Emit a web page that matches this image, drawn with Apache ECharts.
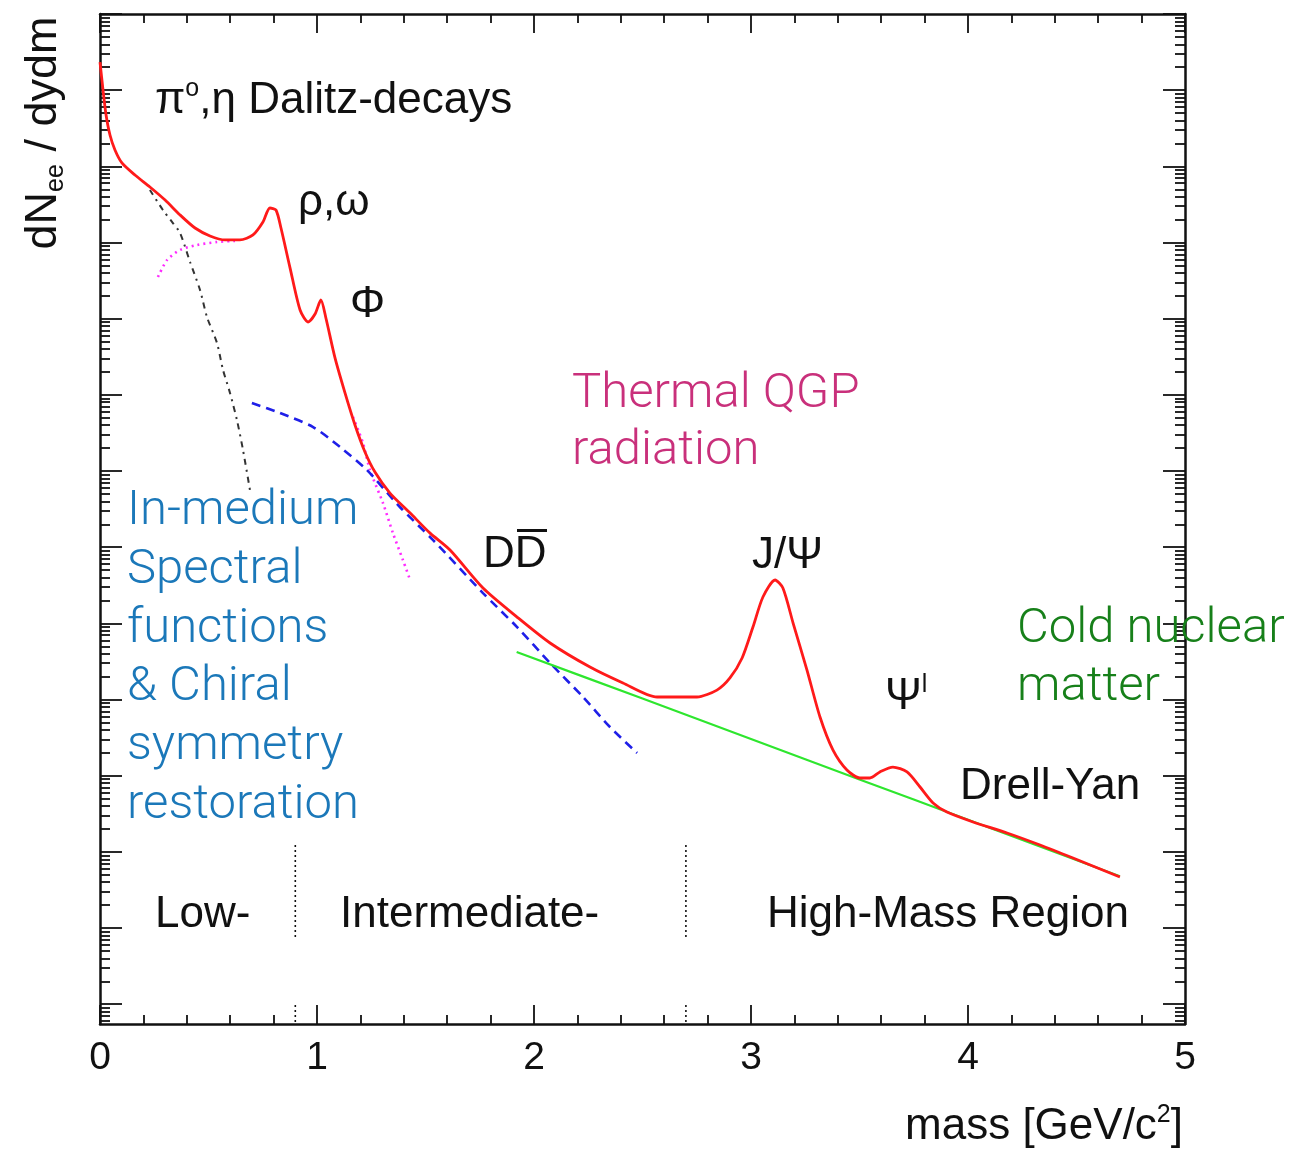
<!DOCTYPE html>
<html>
<head>
<meta charset="utf-8">
<script src="https://cdn.jsdelivr.net/npm/echarts@6/dist/echarts.min.js"></script>
<style>
  html, body { margin: 0; padding: 0; background: #fff; }
  #chart { width: 1296px; height: 1150px; }
</style>
</head>
<body>
<div id="chart"></div>
<script>
// Dilepton invariant-mass spectrum: dN_ee/dydm versus mass (GeV/c^2), log scale in y.

// Total yield (red)
const totalMass = [0.000, 0.014, 0.028, 0.046, 0.069, 0.101, 0.161, 0.230, 0.300, 0.369, 0.438, 0.507, 0.576, 0.645, 0.705, 0.751, 0.783, 0.811, 0.834, 0.876, 0.922, 0.959, 0.991, 1.018, 1.041, 1.083, 1.129, 1.175, 1.221, 1.267, 1.336, 1.429, 1.521, 1.613, 1.765, 1.922, 2.074, 2.258, 2.410, 2.567, 2.751, 2.843, 2.903, 2.959, 3.009, 3.055, 3.111, 3.147, 3.194, 3.258, 3.318, 3.378, 3.442, 3.502, 3.548, 3.594, 3.654, 3.719, 3.779, 3.839, 3.903, 4.023, 4.180, 4.332, 4.484, 4.700];
const totalYield = [2.34, 1.00, 0.472, 0.258, 0.164, 0.111, 0.0769, 0.0536, 0.0361, 0.0230, 0.0155, 0.0122, 0.0108, 0.0108, 0.01256, 0.01858, 0.0284, 0.0267, 0.0155, 0.00462, 0.00130, 0.000904, 0.00115, 0.00176, 0.00102, 3.05e-4, 1.06e-4, 4.02e-5, 1.78e-5, 9.7e-6, 5.14e-6, 2.81e-6, 1.53e-6, 9.18e-7, 2.91e-7, 1.21e-7, 5.52e-8, 2.67e-8, 1.65e-8, 1.08e-8, 1.08e-8, 1.33e-8, 1.92e-8, 3.51e-8, 8.95e-8, 2.22e-7, 3.71e-7, 2.91e-7, 1.01e-7, 2.44e-8, 5.90e-9, 2.17e-9, 1.19e-9, 9.33e-10, 9.33e-10, 1.12e-9, 1.30e-9, 1.12e-9, 7.11e-10, 4.39e-10, 3.33e-10, 2.47e-10, 1.77e-10, 1.23e-10, 8.30e-11, 4.68e-11];

// Drell-Yan (green)
const drellYanMass = [1.92, 2.5, 3.0, 3.5, 4.0, 4.7];
const drellYanYield = [4.21e-8, 1.03e-8, 3.03e-9, 8.94e-10, 2.64e-10, 4.78e-11];

// Open charm D Dbar (blue dashed)
const charmMass = [0.700, 0.829, 0.982, 1.106, 1.230, 1.382, 1.535, 1.765, 1.922, 2.074, 2.226, 2.350, 2.475];
const charmYield = [7.82e-5, 5.78e-5, 3.78e-5, 2.07e-5, 1.03e-5, 3.37e-6, 1.24e-6, 2.50e-7, 8.95e-8, 3.02e-8, 1.08e-8, 4.36e-9, 1.99e-9];

// Dalitz decays (black dash-dot)
const dalitzMass = [0.230, 0.290, 0.336, 0.369, 0.415, 0.461, 0.493, 0.539, 0.567, 0.599, 0.631, 0.659, 0.691];
const dalitzYield = [0.0489, 0.0267, 0.0180, 0.0133, 0.00555, 0.00238, 0.00105, 4.80e-4, 2.12e-4, 1.06e-4, 4.68e-5, 1.89e-5, 5.64e-6];

// In-medium rho (magenta dotted), the parts not covered by the total
const rhoLowMass = [0.267, 0.309, 0.369, 0.447, 0.539, 0.622];
const rhoLowYield = [0.00352, 0.00589, 0.00798, 0.00927, 0.01016, 0.0105];
const rhoHighMass = [1.166, 1.212, 1.244, 1.304, 1.350, 1.396, 1.429];
const rhoHighYield = [5.12e-5, 2.33e-5, 1.03e-5, 3.80e-6, 1.53e-6, 6.79e-7, 3.71e-7];

// Mass-region boundaries and the yield span of their dotted markers
const regionEdges = [0.9, 2.7];
const edgeSpanUpper = [1.23e-10, 6.97e-12];
const edgeSpanLower = [9.77e-13, 5.8e-13];

// Axis ranges and ticks
const massTicks = [0, 1, 2, 3, 4, 5];
const yMin = 5.5e-13;
const yMax = 10;
const decadeTicks = [];
const subDecadeTicks = [];
for (let n = -13; n <= 1; n++) {
  const d = Math.pow(10, n);
  if (d >= yMin && d <= yMax) decadeTicks.push(d);
  for (let k = 2; k <= 9; k++) {
    const v = k * d;
    if (v > yMin && v < yMax) subDecadeTicks.push(v);
  }
}

const zip = (xs, ys) => xs.map((x, i) => [x, ys[i]]);

const INK = '#111';
const SANS = '"Liberation Sans", Arial, Helvetica, sans-serif';
const LIGHT = 'Roboto, "Open Sans", "Liberation Sans", sans-serif';

function yAxis(position, ticks, len, showLine) {
  return {
    type: 'log', logBase: 10, min: yMin, max: yMax, position: position,
    axisLine: { show: showLine, onZero: false, lineStyle: { color: INK, width: 2.5 } },
    axisTick: { show: true, inside: true, length: len, customValues: ticks, lineStyle: { color: INK, width: 1.8 } },
    axisLabel: { show: false },
    splitLine: { show: false },
    minorTick: { show: false }
  };
}

function xAxis(position, labels) {
  return {
    type: 'value', min: 0, max: 5, interval: 1, position: position,
    axisLine: { onZero: false, lineStyle: { color: INK, width: 2.5 } },
    axisTick: { inside: true, length: 19, lineStyle: { color: INK, width: 1.8 } },
    minorTick: { show: true, splitNumber: 5, length: 9, lineStyle: { color: INK, width: 1.8 } },
    axisLabel: labels ? {
      show: true, fontSize: 39, color: INK, margin: 15, fontFamily: SANS,
      customValues: massTicks, formatter: v => String(v)
    } : { show: false },
    splitLine: { show: false }
  };
}

function curve(name, xs, ys, color, width, type, z) {
  return {
    name: name, type: 'line', data: zip(xs, ys), showSymbol: false, smooth: 0.25,
    lineStyle: { color: color, width: width, type: type }, z: z, silent: true
  };
}

const series = [
  curve('Dalitz', dalitzMass, dalitzYield, '#333', 2, [6, 5, 2, 5], 2),
  curve('rho low', rhoLowMass, rhoLowYield, '#ff2bff', 2.6, [2, 4], 2),
  curve('rho high', rhoHighMass, rhoHighYield, '#ff2bff', 2.6, [2, 4], 2),
  curve('DDbar', charmMass, charmYield, '#1f1fe8', 2.6, [9, 6], 3),
  curve('Drell-Yan', drellYanMass, drellYanYield, '#2ee62e', 2.2, 'solid', 4),
  curve('Total', totalMass, totalYield, '#ff1a1a', 2.8, 'solid', 5)
];
regionEdges.forEach(m => {
  [edgeSpanUpper, edgeSpanLower].forEach(span => {
    series.push({
      type: 'line', data: [[m, span[0]], [m, span[1]]], showSymbol: false, silent: true,
      lineStyle: { color: INK, width: 1.6, type: [2, 3] }, z: 1
    });
  });
});

function label(x, y, text) {
  return {
    type: 'text', x: x, y: y, z: 50,
    style: { text: text, font: '44px ' + SANS, fill: INK, align: 'left', verticalAlign: 'middle' }
  };
}
function colored(x, y, text, color) {
  return {
    type: 'text', x: x, y: y, z: 50,
    style: { text: text, fontSize: 49, fontWeight: 300, fontFamily: LIGHT, fill: color, align: 'left', verticalAlign: 'middle' }
  };
}

const sup = { fontSize: 25, fontFamily: SANS, fill: INK, verticalAlign: 'top', lineHeight: 48 };
const base = { fontSize: 44, fontFamily: SANS, fill: INK, lineHeight: 48 };

const graphic = [
  // axis titles
  {
    type: 'text', x: 44, y: 133, rotation: Math.PI / 2, z: 50,
    style: {
      text: '{a|dN}{s|ee}{a| / dydm}', align: 'center', verticalAlign: 'middle',
      rich: {
        a: { fontSize: 45, fontFamily: SANS, fill: INK, lineHeight: 50 },
        s: { fontSize: 25, fontFamily: SANS, fill: INK, lineHeight: 50, verticalAlign: 'bottom' }
      }
    }
  },
  {
    type: 'text', x: 1183, y: 1127, z: 50,
    style: {
      text: '{a|mass [GeV/c}{p|2}{a|]}', align: 'right', verticalAlign: 'middle',
      rich: { a: { fontSize: 44, fontFamily: SANS, fill: INK, lineHeight: 48 }, p: { fontSize: 25, fontFamily: SANS, fill: INK, lineHeight: 48, verticalAlign: 'top' } }
    }
  },
  // black annotations
  {
    type: 'text', x: 155, y: 101, z: 50,
    style: { text: '{a|π}{p|o}{a|,η Dalitz-decays}', align: 'left', verticalAlign: 'middle', rich: { a: base, p: sup } }
  },
  label(298, 203, 'ρ,ω'),
  label(350, 305, 'Φ'),
  label(483, 555, 'DD'),
  { type: 'rect', z: 50, shape: { x: 517, y: 529, width: 30, height: 3 }, style: { fill: INK } },
  label(752, 556, 'J/Ψ'),
  {
    type: 'text', x: 885, y: 697, z: 50,
    style: { text: '{a|Ψ}{p|l}', align: 'left', verticalAlign: 'middle', rich: { a: base, p: sup } }
  },
  label(960, 787, 'Drell-Yan'),
  label(155, 915, 'Low-'),
  label(340, 915, 'Intermediate-'),
  label(767, 915, 'High-Mass Region'),
  // physics process labels
  colored(572, 395, 'Thermal QGP', '#c9307b'),
  colored(572, 452, 'radiation', '#c9307b'),
  colored(127, 512, 'In-medium', '#1b78b9'),
  colored(127, 571, 'Spectral', '#1b78b9'),
  colored(127, 630, 'functions', '#1b78b9'),
  colored(127, 688, '& Chiral', '#1b78b9'),
  colored(127, 747, 'symmetry', '#1b78b9'),
  colored(127, 806, 'restoration', '#1b78b9'),
  colored(1017, 630, 'Cold nuclear', '#17801a'),
  colored(1017, 688, 'matter', '#17801a')
];

const chart = echarts.init(document.getElementById('chart'), null, { renderer: 'canvas' });
chart.setOption({
  animation: false,
  backgroundColor: '#fff',
  grid: { left: 100, right: 111, top: 14, bottom: 126, containLabel: false },
  xAxis: [xAxis('bottom', true), xAxis('top', false)],
  yAxis: [
    yAxis('left', decadeTicks, 22, true),
    yAxis('left', subDecadeTicks, 10, false),
    yAxis('right', decadeTicks, 22, true),
    yAxis('right', subDecadeTicks, 10, false)
  ],
  series: series,
  graphic: graphic
});
</script>
</body>
</html>
